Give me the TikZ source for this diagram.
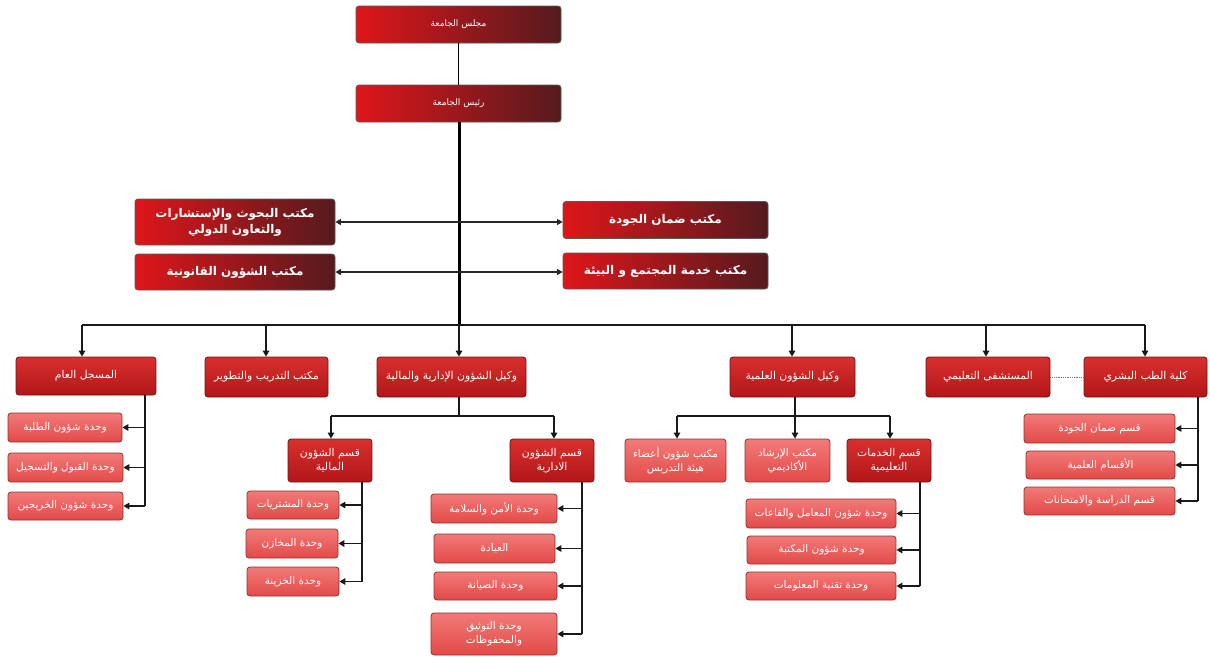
\documentclass[tikz,border=0pt]{standalone}
\usepackage{fontspec}
\newfontfamily\arabicfont[Script=Arabic]{DejaVu Sans}
\TeXXeTstate=1
\usetikzlibrary{arrows.meta,calc}
\newcommand\rtl[1]{\beginR #1\endR}
\definecolor{lonel}{RGB}{222,22,26}
\definecolor{loner}{RGB}{85,26,30}
\definecolor{ltwot}{RGB}{216,48,46}
\definecolor{ltwob}{RGB}{178,22,24}
\definecolor{lthrt}{RGB}{242,122,120}
\definecolor{lthrb}{RGB}{226,74,72}
\definecolor{btwo}{RGB}{105,22,22}
\definecolor{bthr}{RGB}{140,52,50}
\tikzset{
  boxbase/.style={rectangle, rounded corners=3pt, text=white, align=center, inner sep=1pt},
  topbox/.style={boxbase, draw=black!65, line width=0.8pt, left color=lonel, right color=loner, font=\arabicfont\fontsize{9}{11}\selectfont},
  officebox/.style={boxbase, draw=black!65, line width=0.8pt, left color=lonel, right color=loner, font=\arabicfont\bfseries\fontsize{12}{16}\selectfont},
  midbox/.style={boxbase, draw=btwo, line width=0.8pt, top color=ltwot, bottom color=ltwob, font=\arabicfont\fontsize{10.8}{14}\selectfont},
  lowbox/.style={boxbase, draw=bthr, line width=0.8pt, top color=lthrt, bottom color=lthrb, font=\arabicfont\fontsize{10.5}{14}\selectfont},
  conn/.style={draw=black!90, line width=1.7pt},
  arr/.style={conn, -{Triangle[length=6pt,width=6.5pt]}},
  darr/.style={draw=black!85, line width=1.2pt, {Triangle[length=5.5pt,width=6pt]}-{Triangle[length=5.5pt,width=6pt]}},
}
\begin{document}
\begin{tikzpicture}[x=1pt,y=-1pt]
\useasboundingbox[fill=white] (0,0) rectangle (1210,656);

% top
\node[topbox, minimum width=205pt, minimum height=37pt] (council) at (458.5,24.5) {\rtl{مجلس الجامعة}};
\node[topbox, minimum width=205pt, minimum height=37pt] (pres) at (458.5,103.5) {\rtl{رئيس الجامعة}};
\draw[draw=black, line width=1.4pt] (council.south) -- (pres.south |- pres.north);

% offices
\node[officebox, minimum width=200pt, minimum height=46pt] (research) at (235,222) {\rtl{مكتب البحوث والإستشارات}\\\rtl{والتعاون الدولي}};
\node[officebox, minimum width=200pt, minimum height=36pt] (legal) at (235,272) {\rtl{مكتب الشؤون القانونية}};
\node[officebox, minimum width=205pt, minimum height=37pt] (quality) at (665.5,220) {\rtl{مكتب ضمان الجودة}};
\node[officebox, minimum width=205pt, minimum height=36pt] (community) at (665.5,271) {\rtl{مكتب  خدمة المجتمع و البيئة}};

% trunk and bus
\coordinate (busc) at (459,325);
\draw[draw=black, line width=3pt] (pres.south -| busc) -- (busc);
\draw[darr] (research.east) -- (research.east -| quality.west);
\draw[darr] (legal.east) -- (legal.east -| community.west);

% level 2
\node[midbox, minimum width=140pt, minimum height=38pt] (registrar) at (86,376) {\rtl{المسجل العام}};
\node[midbox, minimum width=123pt, minimum height=40pt] (training) at (266.5,377) {\rtl{مكتب التدريب والتطوير}};
\node[midbox, minimum width=149pt, minimum height=40pt] (admvp) at (451.5,377) {\rtl{وكيل الشؤون الإدارية والمالية}};
\node[midbox, minimum width=125pt, minimum height=40pt] (scivp) at (792.5,377) {\rtl{وكيل الشؤون العلمية}};
\node[midbox, minimum width=124pt, minimum height=40pt] (hospital) at (988,377) {\rtl{المستشفى التعليمي}};
\node[midbox, minimum width=123pt, minimum height=40pt] (medicine) at (1145.5,377) {\rtl{كلية الطب البشري}};

\coordinate (bl) at (82,325);
\coordinate (br) at (1145,325);
\draw[conn] (bl) -- (br);
\draw[arr] (bl) -- (bl |- registrar.north);
\draw[arr] (266,325) coordinate (btr) -- (btr |- training.north);
\draw[arr] (busc) -- (busc |- admvp.north);
\draw[arr] (792,325) coordinate (bsv) -- (bsv |- scivp.north);
\draw[arr] (986,325) coordinate (bho) -- (bho |- hospital.north);
\draw[arr] (br) -- (br |- medicine.north);
\draw[draw=black!55, line width=0.8pt, densely dotted] (hospital.east) -- (medicine.west);

% registrar children
\node[lowbox, minimum width=114pt, minimum height=29pt] (r1) at (65,427.5) {\rtl{وحدة شؤون الطلبة}};
\node[lowbox, minimum width=115pt, minimum height=29pt] (r2) at (65.5,467.5) {\rtl{وحدة القبول والتسجيل}};
\node[lowbox, minimum width=115pt, minimum height=28pt] (r3) at (65.5,506) {\rtl{وحدة شؤون الخريجين}};
\coordinate (rv) at (145,395);
\draw[conn] (rv) -- (rv |- r3.east);
\draw[arr] (rv |- r1.east) -- (r1.east);
\draw[arr] (rv |- r2.east) -- (r2.east);
\draw[arr] (rv |- r3.east) -- (r3.east);

% admin VP children
\node[midbox, minimum width=84pt, minimum height=43pt] (fin) at (330,460.5) {\rtl{قسم الشؤون}\\\rtl{المالية}};
\node[midbox, minimum width=84pt, minimum height=43pt] (adm) at (552,460.5) {\rtl{قسم الشؤون}\\\rtl{الادارية}};
\coordinate (av) at (459,416);
\draw[conn] (av |- admvp.south) -- (av);
\draw[conn] (331,416) coordinate (avl) -- (554,416) coordinate (avr);
\draw[arr] (avl) -- (avl |- fin.north);
\draw[arr] (avr) -- (avr |- adm.north);

\node[lowbox, minimum width=92pt, minimum height=28pt] (f1) at (293,505) {\rtl{وحدة المشتريات}};
\node[lowbox, minimum width=92pt, minimum height=29pt] (f2) at (292,543.5) {\rtl{وحدة المخازن}};
\node[lowbox, minimum width=92pt, minimum height=29pt] (f3) at (293,581.5) {\rtl{وحدة الخزينة}};
\coordinate (fv) at (362,482);
\draw[conn] (fv) -- (fv |- f3.east);
\draw[arr] (fv |- f1.east) -- (f1.east);
\draw[arr] (fv |- f2.east) -- (f2.east);
\draw[arr] (fv |- f3.east) -- (f3.east);

\node[lowbox, minimum width=126pt, minimum height=29pt] (a1) at (494,508.5) {\rtl{وحدة الأمن والسلامة}};
\node[lowbox, minimum width=121pt, minimum height=29pt] (a2) at (494.5,548.5) {\rtl{العيادة}};
\node[lowbox, minimum width=123pt, minimum height=28pt] (a3) at (495.5,586) {\rtl{وحدة الصيانة}};
\node[lowbox, minimum width=126pt, minimum height=42pt] (a4) at (494,634) {\rtl{وحدة التوثيق}\\\rtl{والمحفوظات}};
\coordinate (adv) at (582,482);
\draw[conn] (adv) -- (adv |- a4.east);
\draw[arr] (adv |- a1.east) -- (a1.east);
\draw[arr] (adv |- a2.east) -- (a2.east);
\draw[arr] (adv |- a3.east) -- (a3.east);
\draw[arr] (adv |- a4.east) -- (a4.east);

% scientific VP children
\node[lowbox, minimum width=101pt, minimum height=43pt] (s1) at (675.5,460.5) {\rtl{مكتب شؤون أعضاء}\\\rtl{هيئة التدريس}};
\node[lowbox, minimum width=85pt, minimum height=43pt] (s2) at (787.5,460.5) {\rtl{مكتب الإرشاد}\\\rtl{الأكاديمي}};
\node[midbox, minimum width=84pt, minimum height=43pt] (s3) at (889,460.5) {\rtl{قسم الخدمات}\\\rtl{التعليمية}};
\coordinate (sv) at (795,416);
\draw[conn] (sv |- scivp.south) -- (sv);
\draw[conn] (677,416) coordinate (svl) -- (890,416) coordinate (svr);
\draw[arr] (svl) -- (svl |- s1.north);
\draw[arr] (sv) -- (sv |- s2.north);
\draw[arr] (svr) -- (svr |- s3.north);

\node[lowbox, minimum width=150pt, minimum height=29pt] (e1) at (821,513.5) {\rtl{وحدة شؤون المعامل والقاعات}};
\node[lowbox, minimum width=149pt, minimum height=28pt] (e2) at (821.5,550) {\rtl{وحدة شؤون المكتبة}};
\node[lowbox, minimum width=150pt, minimum height=28pt] (e3) at (821,586) {\rtl{وحدة تقنية المعلومات}};
\coordinate (ev) at (920,482);
\draw[conn] (ev) -- (ev |- e3.east);
\draw[arr] (ev |- e1.east) -- (e1.east);
\draw[arr] (ev |- e2.east) -- (e2.east);
\draw[arr] (ev |- e3.east) -- (e3.east);

% medicine children
\node[lowbox, minimum width=151pt, minimum height=29pt] (m1) at (1099.5,428.5) {\rtl{قسم  ضمان الجودة}};
\node[lowbox, minimum width=149pt, minimum height=28pt] (m2) at (1100.5,465) {\rtl{الأقسام العلمية}};
\node[lowbox, minimum width=151pt, minimum height=28pt] (m3) at (1099.5,501) {\rtl{قسم الدراسة والامتحانات}};
\coordinate (mv) at (1198,397);
\draw[conn] (mv) -- (mv |- m3.east);
\draw[arr] (mv |- m1.east) -- (m1.east);
\draw[arr] (mv |- m2.east) -- (m2.east);
\draw[arr] (mv |- m3.east) -- (m3.east);
\end{tikzpicture}
\end{document}
